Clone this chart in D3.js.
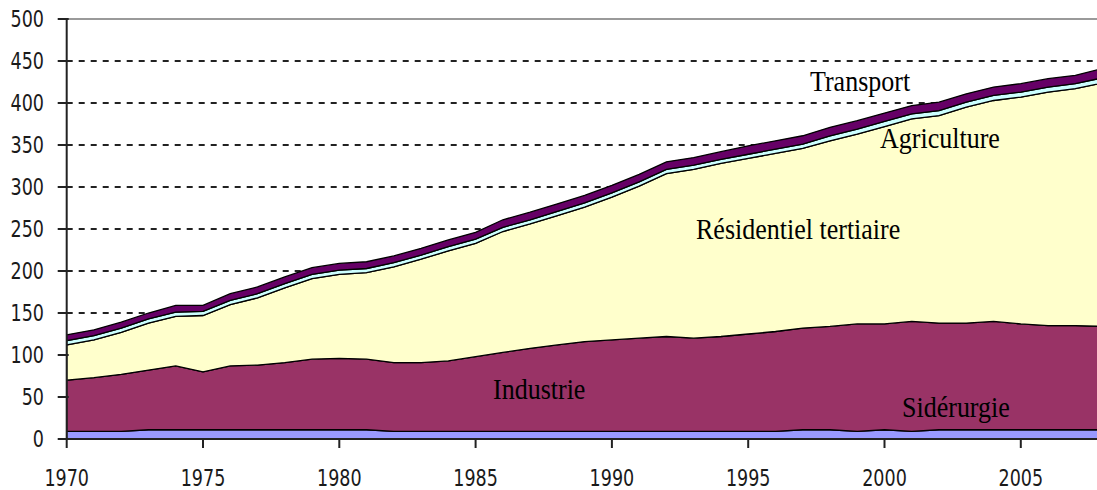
<!DOCTYPE html>
<html>
<head>
<meta charset="utf-8">
<script src="https://cdn.jsdelivr.net/npm/d3@7"></script>
<style>
  body { margin: 0; background: #fff; }
  .tickText { font-family: "DejaVu Sans Condensed", "DejaVu Sans", sans-serif; font-stretch: condensed; font-size: 19.5px; fill: #1a1a1a; }
  .areaLabel { font-family: "Liberation Serif", "Times New Roman", serif; font-size: 26px; fill: #000; }
</style>
</head>
<body>
<svg id="chart" width="1097" height="490"></svg>
<script>
var svg = d3.select("#chart");
var margin = { left: 66.7, top: 19, bottom: 439 };

// Data
var years = [1970,1971,1972,1973,1974,1975,1976,1977,1978,1979,
             1980,1981,1982,1983,1984,1985,1986,1987,1988,1989,
             1990,1991,1992,1993,1994,1995,1996,1997,1998,1999,
             2000,2001,2002,2003,2004,2005,2006,2007,2008];
var siderurgie = [9,9,9,11,11,11,11,11,11,11,
                  11,11,9,9,9,9,9,9,9,9,
                  9,9,9,9,9,9,9,11,11,9,
                  11,9,11,11,11,11,11,11,11];
var industrie = [61,64,68,71,76,69,76,77,80,84,
                 85,84,82,82,84,89,94,99,103,107,
                 109,111,113,111,113,116,119,121,123,128,
                 126,131,127,127,129,126,124,124,123];
var residentiel = [42,45,50,56,59,67,73,80,89,96,
                   100,103,114,123,131,135,144,148,154,160,
                   170,181,194,201,206,209,212,214,221,226,
                   235,241,247,257,263,270,278,282,290];
var agriculture = [5,5,5,5,5,5,5,5,5,5,
                   5,5,5,5,5,5,5,5,5,5,
                   5,5,5,5,5,5,5,5,6,6,
                   6,6,6,6,6,6,6,6,6];
var transport = [7,7,7,7,8,7,8,8,8,8,
                 8,8,8,8,8,8,9,9,9,9,
                 9,9,9,9,9,10,10,10,10,10,
                 10,10,10,10,10,10,10,10,11];
var seriesNames = ["Sidérurgie", "Industrie", "Résidentiel tertiaire", "Agriculture", "Transport"];
var seriesColors = ["#9999ff", "#993366", "#ffffcc", "#ccffff", "#660066"];
var xTickValues = [1970,1975,1980,1985,1990,1995,2000,2005];
var yTickValues = [0,50,100,150,200,250,300,350,400,450,500];

// build rows for the stack
var rows = years.map(function(y, i) {
  return {
    year: y,
    "Sidérurgie": siderurgie[i],
    "Industrie": industrie[i],
    "Résidentiel tertiaire": residentiel[i],
    "Agriculture": agriculture[i],
    "Transport": transport[i]
  };
});
var stacked = d3.stack().keys(seriesNames)(rows);

// Scales
var xScale = d3.scaleLinear()
               .domain([1970, 2008])
               .range([margin.left, margin.left + 38 * 27.26]);
var yScale = d3.scaleLinear()
               .domain([0, 500])
               .range([margin.bottom, margin.top]);

// Dashed grid lines
svg.selectAll(".gridLine")
   .data(yTickValues.filter(function(d) { return d > 0 && d < 500; }))
   .enter()
   .append("line")
   .attr("class", "gridLine")
   .attr("x1", margin.left)
   .attr("x2", 1097)
   .attr("y1", function(d) { return yScale(d); })
   .attr("y2", function(d) { return yScale(d); })
   .style("stroke", "#222")
   .style("stroke-width", 2)
   .style("stroke-dasharray", "6,6");

// top frame line
svg.append("line")
   .attr("x1", margin.left)
   .attr("x2", 1097)
   .attr("y1", yScale(500))
   .attr("y2", yScale(500))
   .style("stroke", "#9a9a9a")
   .style("stroke-width", 2);

// Stacked areas
var area = d3.area()
             .x(function(d) { return xScale(d.data.year); })
             .y0(function(d) { return yScale(d[0]); })
             .y1(function(d) { return yScale(d[1]); });

svg.selectAll(".layer")
   .data(stacked)
   .enter()
   .append("path")
   .attr("class", "layer")
   .attr("d", area)
   .style("fill", function(d, i) { return seriesColors[i]; })
   .style("stroke", "#000")
   .style("stroke-width", 1.3);

// Axes
svg.append("line")
   .attr("x1", margin.left)
   .attr("x2", margin.left)
   .attr("y1", yScale(500))
   .attr("y2", yScale(0))
   .style("stroke", "#222")
   .style("stroke-width", 2);
svg.append("line")
   .attr("x1", margin.left)
   .attr("x2", 1097)
   .attr("y1", yScale(0))
   .attr("y2", yScale(0))
   .style("stroke", "#222")
   .style("stroke-width", 2);

// y ticks + labels
svg.selectAll(".yTick")
   .data(yTickValues)
   .enter()
   .append("line")
   .attr("class", "yTick")
   .attr("x1", margin.left - 9)
   .attr("x2", margin.left + 2)
   .attr("y1", function(d) { return yScale(d); })
   .attr("y2", function(d) { return yScale(d); })
   .style("stroke", "#222")
   .style("stroke-width", 2);

svg.selectAll(".yLabel")
   .data(yTickValues)
   .enter()
   .append("text")
   .attr("class", "tickText yLabel")
   .attr("text-anchor", "end")
   .attr("transform", function(d) {
     return "translate(44," + (yScale(d) + 8.2) + ") scale(1,1.18)";
   })
   .text(function(d) { return d; });

// x ticks + labels
svg.selectAll(".xTick")
   .data(xTickValues)
   .enter()
   .append("line")
   .attr("class", "xTick")
   .attr("x1", function(d) { return xScale(d); })
   .attr("x2", function(d) { return xScale(d); })
   .attr("y1", yScale(0))
   .attr("y2", yScale(0) + 9)
   .style("stroke", "#222")
   .style("stroke-width", 2);

svg.selectAll(".xLabel")
   .data(xTickValues)
   .enter()
   .append("text")
   .attr("class", "tickText xLabel")
   .attr("text-anchor", "middle")
   .attr("transform", function(d) {
     return "translate(" + xScale(d) + ",486) scale(1,1.18)";
   })
   .text(function(d) { return d; });

// Area labels
var labelText = ["Transport", "Agriculture", "Résidentiel tertiaire", "Industrie", "Sidérurgie"];
var labelX = [810, 880, 696, 493, 902];
var labelY = [90.5, 148, 238.5, 399, 417];
svg.selectAll(".areaLabel")
   .data(labelText)
   .enter()
   .append("text")
   .attr("class", "areaLabel")
   .attr("transform", function(d, i) {
     return "translate(" + labelX[i] + "," + labelY[i] + ") scale(1,1.1)";
   })
   .text(function(d) { return d; });
</script>
</body>
</html>
